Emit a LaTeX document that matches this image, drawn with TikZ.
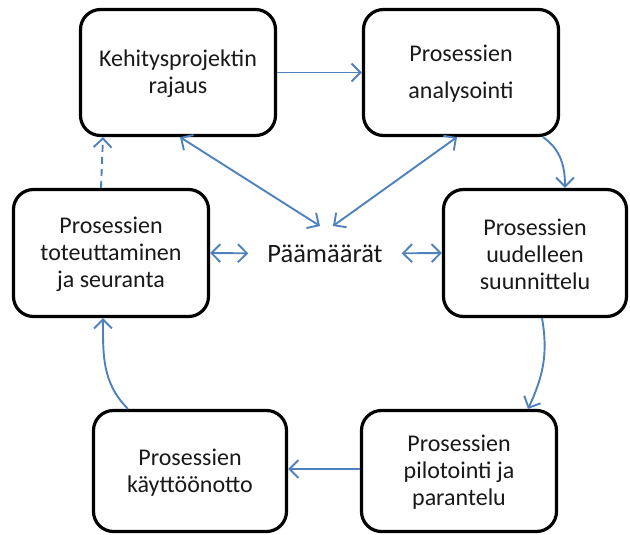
\documentclass[tikz,border=0pt]{standalone}
\usepackage{fontspec}
\setmainfont{Carlito}
\usetikzlibrary{arrows.meta}
\definecolor{flowblue}{RGB}{79,129,189}
\definecolor{ink}{RGB}{25,25,25}
\begin{document}
\begin{tikzpicture}[x=1pt,y=-1pt,
  phase/.style={draw=black, line width=3.2pt, rounded corners=20pt, fill=white,
    align=center, text=ink, font=\fontsize{24}{27}\selectfont, inner sep=0pt},
  tip/.tip={Straight Barb[length=9pt,width=18pt,line width=1.9pt]},
  flow/.style={draw=flowblue, line width=1.9pt, -tip},
  both/.style={draw=flowblue, line width=1.9pt, tip-tip}]
\useasboundingbox (0,0) rectangle (630,535);

% the six phases of the cycle
\node[phase, minimum width=195pt, minimum height=126pt] (b1) at (178,72.5)
  {\strut Kehitysprojektin\\rajaus};
\node[phase, minimum width=195pt, minimum height=126pt] (b2) at (461,72.5)
  {\strut Prosessien\\[10pt]analysointi};
\node[phase, minimum width=195pt, minimum height=127pt] (b3) at (111,253)
  {\strut Prosessien\\toteuttaminen\\ja seuranta};
\node[phase, minimum width=183pt, minimum height=127pt] (b4) at (535,253)
  {\strut Prosessien\\uudelleen\\suunnittelu};
\node[phase, minimum width=193pt, minimum height=121pt] (b5) at (190,471)
  {\strut Prosessien\\käyttöönotto};
\node[phase, minimum width=195pt, minimum height=121pt] (b6) at (459,471)
  {\strut Prosessien\\pilotointi ja\\parantelu};

% goals in the middle
\node[text=ink, font=\fontsize{26.5}{30}\selectfont, inner xsep=19pt, inner ysep=0pt,
  anchor=base] (goal) at (325,262) {Päämäärät};
\coordinate (gl) at (320,226);
\coordinate (gr) at (333,226);

% cycle connectors
\draw[flow] (b1.east) -- (b2.west);
\draw[flow] ([xshift=82pt]b2.south) to[out=-35,in=90] ([xshift=30pt]b4.north);
\draw[flow] ([xshift=7pt]b4.south) to[out=-80,in=65] ([xshift=69pt]b6.north);
\draw[flow] ([yshift=2pt]b6.west) -- ([yshift=2pt]b5.east);
\draw[flow] ([xshift=-62pt]b5.north) to[out=135,in=-90] ([xshift=-8pt]b3.south);
\draw[flow, dashed, dash pattern=on 7pt off 5pt] ([xshift=-10pt]b3.north) -- ([xshift=-75pt]b1.south);

% links to the goals
\draw[both] ([xshift=2pt]b1.south) -- (gl);
\draw[both] ([xshift=-4pt]b2.south) -- (gr);
\draw[both] (b3.east) -- (goal.west);
\draw[both] (goal.east) -- (b4.west);
\end{tikzpicture}
\end{document}
